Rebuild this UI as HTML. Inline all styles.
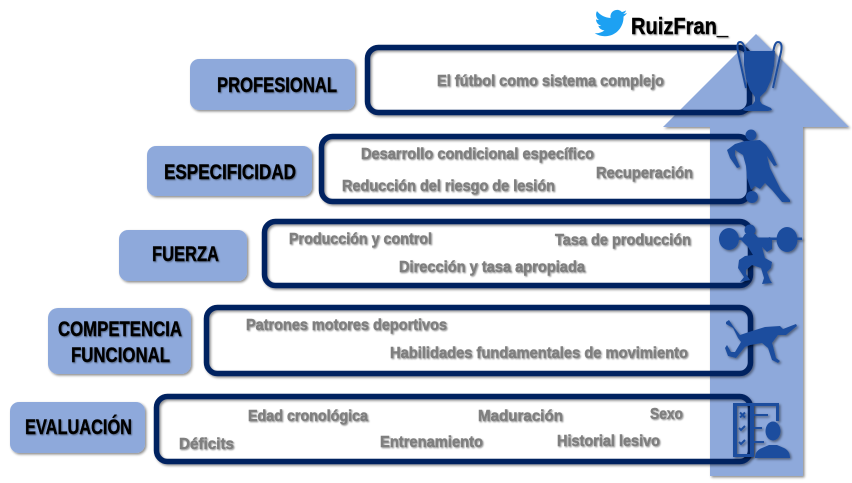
<!DOCTYPE html>
<html><head><meta charset="utf-8"><style>
html,body{margin:0;padding:0;background:#fff;width:852px;height:483px;overflow:hidden}
svg{display:block}
.g{font-family:"Liberation Sans",sans-serif;font-weight:700;font-size:16px;fill:#7f7f7f;stroke:#7f7f7f;stroke-width:.5px}
.k{font-family:"Liberation Sans",sans-serif;font-weight:700;font-size:21px;fill:#000;stroke:#000;stroke-width:.4px}
</style></head><body>
<svg width="852" height="483" viewBox="0 0 852 483" xmlns="http://www.w3.org/2000/svg">
<defs>
<filter id="s" x="-10%" y="-10%" width="120%" height="120%"><feDropShadow dx="1.5" dy="1.5" stdDeviation="1.2" flood-color="#000" flood-opacity=".45"/></filter>
<filter id="t" x="-5%" y="-20%" width="110%" height="150%"><feGaussianBlur stdDeviation=".3" result="b"/><feDropShadow in="b" dx="1" dy="1" stdDeviation=".8" flood-color="#000" flood-opacity=".4"/></filter>
</defs>
<polygon points="756,34 849,127 803,127 803,476 710,476 710,127 663,127" fill="#8ea9db" filter="url(#s)"/>
<g fill="#8ea9db" filter="url(#s)">
<rect x="190" y="59" width="165" height="51" rx="9"/>
<rect x="147" y="146" width="165" height="50" rx="9"/>
<rect x="119" y="230" width="128" height="51" rx="9"/>
<rect x="48" y="308" width="143" height="66" rx="10"/>
<rect x="10" y="402" width="135" height="51" rx="9"/>
</g>
<g fill="none" stroke="#002060" stroke-width="5.5" filter="url(#s)">
<rect x="367.500" y="47.500" width="382" height="65" rx="11"/>
<rect x="321.500" y="136.500" width="428" height="65" rx="11"/>
<rect x="264.500" y="221.500" width="486" height="64" rx="11"/>
<rect x="206.500" y="307.500" width="544" height="66" rx="11"/>
<rect x="156.500" y="396.500" width="594" height="65" rx="11"/>
</g>
<g filter="url(#t)">
<text class="k" x="217" y="92" textLength="120" lengthAdjust="spacingAndGlyphs">PROFESIONAL</text>
<text class="k" x="164" y="179" textLength="132" lengthAdjust="spacingAndGlyphs">ESPECIFICIDAD</text>
<text class="k" x="152" y="261" textLength="67" lengthAdjust="spacingAndGlyphs">FUERZA</text>
<text class="k" x="58" y="336" textLength="124" lengthAdjust="spacingAndGlyphs">COMPETENCIA</text>
<text class="k" x="71" y="362" textLength="99" lengthAdjust="spacingAndGlyphs">FUNCIONAL</text>
<text class="k" x="25" y="434" textLength="107" lengthAdjust="spacingAndGlyphs">EVALUACIÓN</text>
<text class="k" x="631" y="34" textLength="97" lengthAdjust="spacingAndGlyphs" style="font-size:23px">RuizFran_</text>
</g>
<g filter="url(#t)">
<text class="g" x="437" y="86" textLength="227" lengthAdjust="spacingAndGlyphs">El fútbol como sistema complejo</text>
<text class="g" x="361" y="159" textLength="233" lengthAdjust="spacingAndGlyphs">Desarrollo condicional específico</text>
<text class="g" x="596" y="178" textLength="97" lengthAdjust="spacingAndGlyphs">Recuperación</text>
<text class="g" x="342" y="191" textLength="213" lengthAdjust="spacingAndGlyphs">Reducción del riesgo de lesión</text>
<text class="g" x="289" y="244" textLength="143" lengthAdjust="spacingAndGlyphs">Producción y control</text>
<text class="g" x="555" y="245" textLength="136" lengthAdjust="spacingAndGlyphs">Tasa de producción</text>
<text class="g" x="399" y="272" textLength="186" lengthAdjust="spacingAndGlyphs">Dirección y tasa apropiada</text>
<text class="g" x="246" y="330" textLength="201" lengthAdjust="spacingAndGlyphs">Patrones motores deportivos</text>
<text class="g" x="390" y="358" textLength="298" lengthAdjust="spacingAndGlyphs">Habilidades fundamentales de movimiento</text>
<text class="g" x="248" y="421" textLength="120" lengthAdjust="spacingAndGlyphs">Edad cronológica</text>
<text class="g" x="478" y="421" textLength="85" lengthAdjust="spacingAndGlyphs">Maduración</text>
<text class="g" x="650" y="419" textLength="33" lengthAdjust="spacingAndGlyphs">Sexo</text>
<text class="g" x="179" y="449" textLength="55" lengthAdjust="spacingAndGlyphs">Déficits</text>
<text class="g" x="380" y="447" textLength="103" lengthAdjust="spacingAndGlyphs">Entrenamiento</text>
<text class="g" x="557" y="446" textLength="103" lengthAdjust="spacingAndGlyphs">Historial lesivo</text>
</g>
<path fill="#1da1f2" d="M627 13c-1.200.5-2.500.9-3.800 1 1.400-.8 2.400-2.100 2.900-3.600-1.300.8-2.700 1.300-4.200 1.600a6.600 6.600 0 0 0-11.300 6c-5.500-.3-10.400-2.900-13.600-6.900-1.800 3-.9 7 2 8.900-1.100 0-2.100-.3-3-.8 0 3.200 2.300 5.900 5.300 6.500-1 .3-2 .3-3 .1.800 2.600 3.300 4.500 6.200 4.600-2.800 2.200-6.400 3.200-9.800 2.800 3 1.900 6.500 3 10.100 3 12.200 0 19.100-10.300 18.700-19.600 1.300-.9 2.500-2.100 3.500-3.600z"/>
<g fill="#1f4e9e" filter="url(#s)">
<!-- trophy -->
<path d="M744 51h31l-1 15-3 14-5 11-6 6v4l2 3 9 4 1 2-4 1h-22l-3-1 1-2 9-4 2-3v-4l-5-7-4-11-2-14z"/>
<path fill="none" stroke="#1f4e9e" stroke-width="2" d="M746 53c-1-6-3-11-6-11-3 0-3 5-2 10l8 36M773 53c1-6 2-11 5-11 4 0 4 5 3 10l-8 36"/>
<!-- player -->
<circle cx="751" cy="135" r="5.500"/>
<circle cx="752" cy="197" r="6"/>
<path d="M745 141L760 140L766 145L771 152L777 165L774 166L767 156L770 168L775 178L781 190L790 200L790 202L782 202L772 190L765 183L760 189L755 186L751 190L747 178L746 166L743 155L735 150L735 155L740 167L737 168L730 158L727 150L735 144Z"/>
<!-- lifter -->
<ellipse cx="729" cy="239" rx="10" ry="11"/>
<ellipse cx="787" cy="239.500" rx="10.500" ry="12.500"/>
<rect x="729" y="237.500" width="73" height="2.500"/>
<circle cx="750" cy="230" r="5.500"/>
<path d="M745 234L755 234L760 240L770 237L772 240L772 249L767 252L762 247L765 258L772 262L771 268L767 272L770 280L772 283L762 284L764 278L761 268L752 265L746 270L746 274L750 280L740 282L744 277L738 268L739 260L745 256L753 255L748 247L741 240Z"/>
<!-- lunge -->
<path d="M726 322L729 320L733 326L740 335L752 331L765 327L780 326L783 329L796 324L797 326L786 335L778 335L772 343L773 346L776 358L780 361L778 363L772 360L768 348L762 343L750 345L745 347L736 358L728 356L725 348L727 345L731 352L735 352L741 342L738 338L733 328L726 324Z"/>
<!-- eval -->
<path fill-rule="evenodd" d="M733 403h46v18h-3v-15h-22v51h-21zM737 406v48h13v-48z"/>
<path d="M750 414h18v2h-18zM750 427h12v2h-12zM750 441h14v2h-14z"/>
<path d="M740 412.500l5 5m0-5l-5 5" stroke="#1f4e9e" stroke-width="2" fill="none"/>
<path d="M739 428l2 2 4-4M739 442l2 2 4-4" stroke="#1f4e9e" stroke-width="2" fill="none"/>
<ellipse cx="773" cy="431" rx="7.500" ry="9.500"/>
<path d="M755 458c0-5 2-8 7-10l7-3h8l7 3c4 2 6 5 6 10z"/>
</g>
</svg>
</body></html>
